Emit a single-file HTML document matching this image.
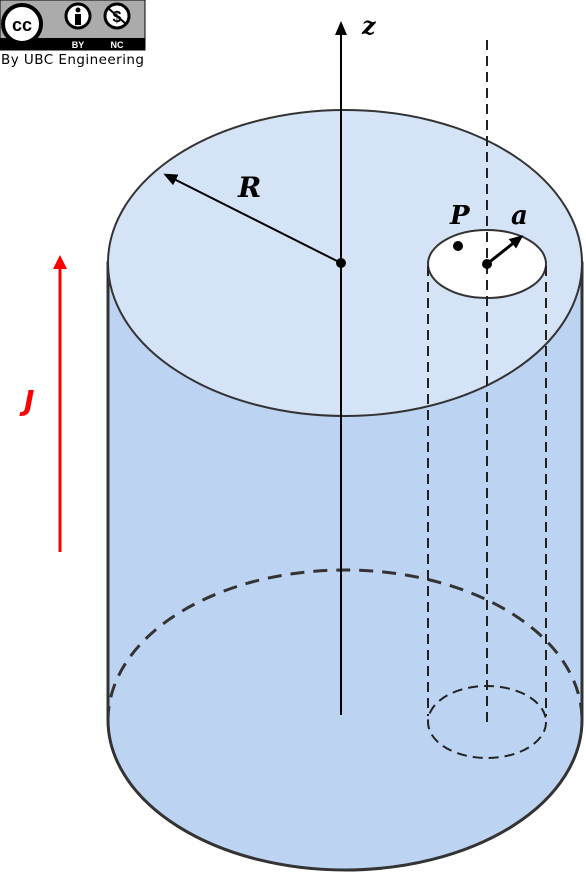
<!DOCTYPE html>
<html><head><meta charset="utf-8"><style>
html,body{margin:0;padding:0;background:#fff;}
svg{display:block;}
</style></head><body>
<svg width="586" height="879" viewBox="0 0 586 879" xmlns="http://www.w3.org/2000/svg">
<defs>
<marker id="ah" markerWidth="14" markerHeight="14" refX="11" refY="7" orient="auto" markerUnits="userSpaceOnUse"><path d="M0,1 L14,7 L0,13 z" fill="#000"/></marker>
<marker id="ahr" markerWidth="14" markerHeight="16" refX="10" refY="8" orient="auto" markerUnits="userSpaceOnUse"><path d="M0,1 L14,8 L0,15 z" fill="#f00"/></marker>
</defs>
<g>
<rect x="0" y="0" width="145" height="50" fill="#ababab" stroke="#000" stroke-width="1"/>
<rect x="0" y="38" width="145" height="12" fill="#000"/>
<circle cx="22" cy="24" r="19" fill="#fff" stroke="#000" stroke-width="4"/>
<text x="22" y="31" font-family="Liberation Sans, sans-serif" font-weight="bold" font-size="18" text-anchor="middle">cc</text>
<circle cx="78" cy="16" r="12" fill="#fff" stroke="#000" stroke-width="3"/>
<rect x="75" y="14" width="6" height="11" fill="#000"/><circle cx="78" cy="10" r="2.5" fill="#000"/>
<circle cx="117" cy="16" r="12" fill="#fff" stroke="#000" stroke-width="3"/>
<text x="117" y="22" font-family="Liberation Sans, sans-serif" font-weight="bold" font-size="16" text-anchor="middle">$</text>
<line x1="108" y1="8" x2="126" y2="24" stroke="#000" stroke-width="2"/>
<text x="78" y="48" font-family="Liberation Sans, sans-serif" font-weight="bold" font-size="9" fill="#fff" text-anchor="middle">BY</text>
<text x="117" y="48" font-family="Liberation Sans, sans-serif" font-weight="bold" font-size="9" fill="#fff" text-anchor="middle">NC</text>
<text x="1" y="64" font-family="DejaVu Sans, sans-serif" font-size="13.5" fill="#000" textLength="143">By UBC Engineering</text>
</g>
<path d="M108,263 L108,720 A237,150 0 0 0 582,720 L582,263 Z" fill="#bdd3f2" stroke="#333" stroke-width="3"/>
<path d="M108,720 A237,150 0 0 1 582,720" fill="none" stroke="#333" stroke-width="3" stroke-dasharray="14,9"/>
<ellipse cx="345" cy="263" rx="237" ry="153" fill="#d4e3f6" stroke="#333" stroke-width="2"/>
<ellipse cx="487" cy="264" rx="59" ry="34" fill="#fff" stroke="#333" stroke-width="2"/>
<g stroke="#222" stroke-width="2" stroke-dasharray="10,6" fill="none">
<line x1="487" y1="40" x2="487" y2="728"/>
<line x1="428" y1="266" x2="428" y2="716"/>
<line x1="546" y1="266" x2="546" y2="716"/>
<ellipse cx="487" cy="722" rx="59" ry="36"/>
</g>
<line x1="341" y1="715" x2="341" y2="24" stroke="#000" stroke-width="2" marker-end="url(#ah)"/>
<text x="362" y="34" font-family="DejaVu Serif, serif" font-style="italic" font-weight="bold" font-size="24">z</text>
<line x1="341" y1="263" x2="166" y2="175" stroke="#000" stroke-width="2" marker-end="url(#ah)"/>
<text x="238" y="197" font-family="DejaVu Serif, serif" font-style="italic" font-weight="bold" font-size="28">R</text>
<circle cx="341" cy="263" r="5" fill="#000"/>
<circle cx="458" cy="246" r="5" fill="#000"/>
<text x="450" y="224" font-family="DejaVu Serif, serif" font-style="italic" font-weight="bold" font-size="26">P</text>
<circle cx="487" cy="264" r="5" fill="#000"/>
<line x1="487" y1="264" x2="521" y2="237" stroke="#000" stroke-width="3" marker-end="url(#ah)"/>
<text x="511" y="224" font-family="DejaVu Serif, serif" font-style="italic" font-weight="bold" font-size="26">a</text>
<line x1="60" y1="552" x2="60" y2="259" stroke="#f00" stroke-width="3" marker-end="url(#ahr)"/>
<text x="24" y="410" font-family="DejaVu Sans, sans-serif" font-style="italic" font-weight="bold" font-size="28" fill="#f00">J</text>
</svg>
</body></html>
